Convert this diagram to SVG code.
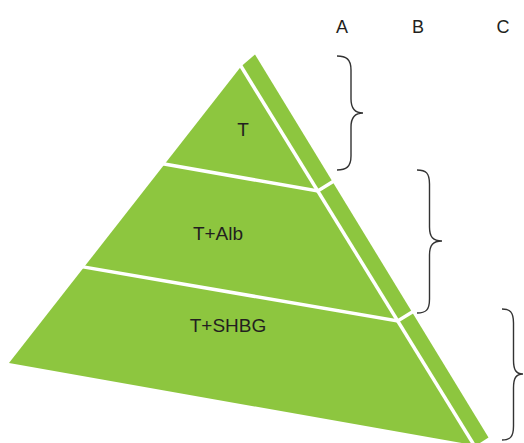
<svg xmlns="http://www.w3.org/2000/svg" width="524" height="443" viewBox="0 0 524 443">
  <style>
    .lbl { font-family: "Liberation Sans", Arial, sans-serif; font-size: 19px; fill: #231f20; text-anchor: middle; }
    .cut { stroke: #ffffff; stroke-width: 3.5; fill: none; stroke-linecap: butt; stroke-linejoin: miter; }
    .brace { stroke: #333333; stroke-width: 1.4; fill: none; }
  </style>
  <rect width="524" height="443" fill="#ffffff"/>
  <g id="pyramid">
    <polygon points="9,363 241,66.5 255,54.5 488.5,437.5 476,445.5" fill="#8dc63f"/>
  </g>
  <g id="connectors">
    <line class="cut" x1="237.2" y1="60" x2="477.1" y2="450"/>
    <polyline class="cut" points="150,161.5 317.8,191 333.5,181.3"/>
    <polyline class="cut" points="70,264.6 397.7,321 413.5,311.3"/>
  </g>
  <g id="node-T"><text class="lbl" x="243" y="136">T</text></g>
  <g id="node-TAlb"><text class="lbl" x="218" y="240">T+Alb</text></g>
  <g id="node-TSHBG"><text class="lbl" x="228" y="332">T+SHBG</text></g>
  <g id="brace-A">
    <path class="brace" d="M337,56 C346,56 351,59 351,70 L351,99 C351,109 355,113 363,113 C355,113 351,117 351,127 L351,156 C351,167 346,170 337,170"/>
    <text class="lbl" x="342" y="33" style="font-size:18px">A</text>
  </g>
  <g id="brace-B">
    <path class="brace" d="M417,170 C426,170 429.5,173 429.5,184 L429.5,227 C429.5,237 433,241 442,241 C433,241 429.5,245 429.5,255 L429.5,299 C429.5,310 426,313 417,313"/>
    <text class="lbl" x="418" y="33" style="font-size:18px">B</text>
  </g>
  <g id="brace-C">
    <path class="brace" d="M502,309 C510,309 513.5,312 513.5,323 L513.5,360 C513.5,370 516,374 523,374 C516,374 513.5,378 513.5,388 L513.5,426 C513.5,437 510,440 502,440"/>
    <text class="lbl" x="503" y="33" style="font-size:18px">C</text>
  </g>
</svg>
